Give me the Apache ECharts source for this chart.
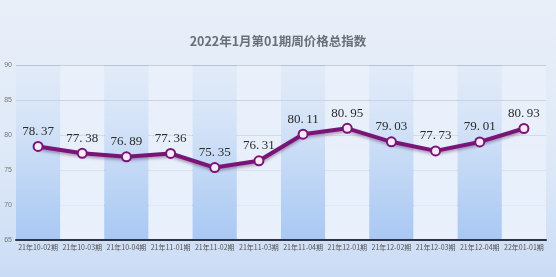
<!DOCTYPE html>
<html><head><meta charset="utf-8">
<script src="https://cdn.jsdelivr.net/npm/echarts@6/dist/echarts.min.js"></script>
<style>html,body{margin:0;padding:0;}#c{width:556px;height:277px;background:linear-gradient(to bottom,#e9eff9 0%,#dde8f7 60%,#cadcf5 100%);}</style>
</head><body><div id="c"></div>
<script>
var titleText = '2022年1月第01期周价格总指数';
var categories = ['21年10-02期','21年10-03期','21年10-04期','21年11-01期','21年11-02期','21年11-03期','21年11-04期','21年12-01期','21年12-02期','21年12-03期','21年12-04期','22年01-01期'];
var values = [78.37, 77.38, 76.89, 77.36, 75.35, 76.31, 80.11, 80.95, 79.03, 77.73, 79.01, 80.93];
var yMin = 65, yMax = 90, yStep = 5;

var chart = echarts.init(document.getElementById('c'), null, {renderer:'canvas'});
var darkBand = new echarts.graphic.LinearGradient(0,0,0,1,[{offset:0,color:'rgba(222,233,249,0.5)'},{offset:0.35,color:'#d3e2f7'},{offset:1,color:'#a8c8f3'}]);
var lightBand = new echarts.graphic.LinearGradient(0,0,0,1,[{offset:0,color:'rgba(236,242,251,0.6)'},{offset:1,color:'#e8f0fb'}]);
chart.setOption({
  backgroundColor:'transparent',
  animation:false,
  title:{text:titleText,left:'center',top:30,textStyle:{fontSize:12.5,fontWeight:'bold',color:'#6a6e77',fontFamily:'Noto Sans CJK SC'}},
  grid:{left:16,right:10,top:65,bottom:37},
  xAxis:{type:'category',data:categories,boundaryGap:true,
    axisLine:{lineStyle:{color:'#2e3440',width:2}},
    axisTick:{show:false},
    axisLabel:{fontSize:7,color:'#555',margin:4,interval:0,fontFamily:'Noto Sans CJK SC'},
    splitArea:{show:true,areaStyle:{color:[darkBand,lightBand]}}
  },
  yAxis:{type:'value',min:yMin,max:yMax,interval:yStep,
    axisLine:{show:false},axisTick:{show:false},
    axisLabel:{fontSize:7,color:'#777',margin:4},
    splitLine:{lineStyle:{color:'#939aa5',width:1}}
  },
  series:[{type:'line',data:values,
    symbol:'circle',symbolSize:9,
    lineStyle:{color:'#7a1477',width:4,shadowColor:'rgba(60,0,60,0.35)',shadowBlur:3,shadowOffsetY:2},
    itemStyle:{color:'#fbeaf8',borderColor:'#7a1477',borderWidth:2},
    label:{show:true,position:'top',distance:3,fontSize:13,color:'#2a2a2a',fontFamily:'Liberation Serif',
      formatter:function(p){return p.value.toFixed(2).replace('.', '.\u2009');}}
  }]
});
</script></body></html>
